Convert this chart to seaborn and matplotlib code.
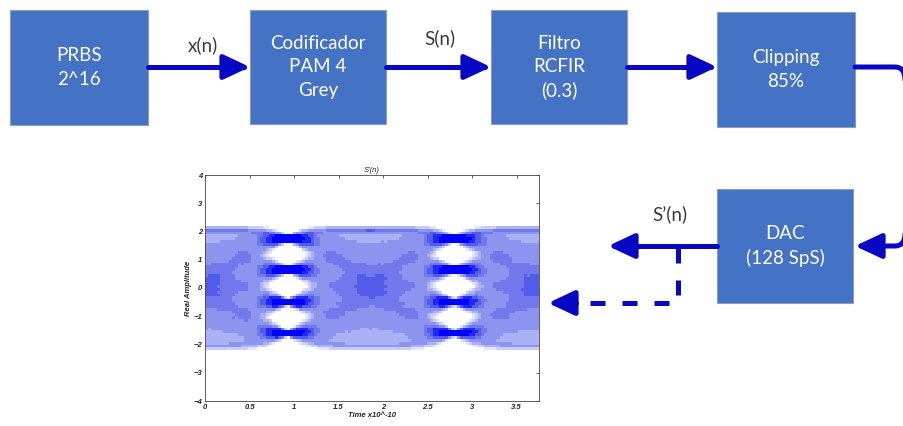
import itertools
import numpy as np
import pandas as pd
import matplotlib
matplotlib.use("Agg")
import matplotlib.pyplot as plt
from matplotlib.colors import ListedColormap
from matplotlib.patches import Rectangle, FancyArrowPatch, ArrowStyle
from matplotlib.path import Path
import seaborn as sns

# block diagram text
top_blocks = ["PRBS\n2^16", "Codificador\nPAM 4\nGrey", "Filtro\nRCFIR\n(0.3)", "Clipping\n85%"]
dac_block = "DAC\n(128 SpS)"
signal_labels = ["x(n)", "S(n)", "S\u2019(n)"]

# eye diagram values
pam4_levels = [-1.6, -0.5, 0.65, 1.75]
symbol_period = 1.87      # x1e-10
first_sample = 0.93
rolloff = 0.3
clip_knee = 1.8
clip_ceiling = 2.1
noise_offsets = [-0.07, 0.0, 0.07]
time_span = 3.75
x_ticks = [0, 0.5, 1, 1.5, 2, 2.5, 3, 3.5]
y_ticks = [-4, -3, -2, -1, 0, 1, 2, 3, 4]

# density shades (white -> pure blue); steps relative to one PAM level's share
shades = ["#ffffff", "#e2e5fb", "#c9cef8", "#aab1f4", "#8c94f0", "#7078ec", "#525bea", "#2228f2", "#0000ff"]
shade_steps = [0.0, 0.008, 0.02, 0.04, 0.065, 0.105, 0.122, 0.15, 0.2]

BOX = "#4472c4"
LINE = "#0808c4"

sns.set_style("white")
plt.rcParams["font.family"] = ["Lato", "DejaVu Sans"]

fig = plt.figure(figsize=(9.04, 4.26), dpi=100)
bg = fig.add_axes([0, 0, 1, 1])
bg.set_xlim(0, 904)
bg.set_ylim(426, 0)
bg.axis("off")

# --- blocks ---
box_pos = [(10, 10, 138, 115), (250, 10, 136, 114), (491, 10, 136, 114), (717, 12, 138, 115)]
for (x, y, w, h), txt in zip(box_pos, top_blocks):
    bg.add_patch(Rectangle((x, y), w, h, facecolor=BOX, edgecolor="#8a9cc0", lw=0.8))
    bg.text(x + w / 2, y + h / 2, txt, color="white", ha="center", va="center",
            fontsize=13.5, linespacing=1.45)
bg.add_patch(Rectangle((717, 189), 136, 114, facecolor=BOX, edgecolor="#8a9cc0", lw=0.8))
bg.text(785, 246, dac_block, color="white", ha="center", va="center", fontsize=13.5, linespacing=1.45)

head = ArrowStyle("-|>", head_length=16, head_width=7.5)


def arrow(verts, codes=None, **kw):
    p = Path(verts, codes)
    bg.add_patch(FancyArrowPatch(path=p, arrowstyle=head, mutation_scale=1, color=LINE,
                                 lw=3.6, shrinkA=0, shrinkB=0, **kw))


arrow([(148, 67), (250, 67)])
arrow([(386, 67), (491, 67)])
arrow([(627, 67), (717, 67)])
# out of the right edge and back in
bg.add_patch(FancyArrowPatch(path=Path([(855, 67), (895, 67), (905, 67), (905, 80), (905, 120)],
                                       [Path.MOVETO, Path.LINETO, Path.CURVE3, Path.CURVE3, Path.LINETO]),
                             arrowstyle="-", color=LINE, lw=3.6, shrinkA=0, shrinkB=0))
arrow([(905, 200), (905, 234), (905, 246), (895, 246), (855, 246)],
      [Path.MOVETO, Path.LINETO, Path.CURVE3, Path.CURVE3, Path.LINETO])
arrow([(717, 246), (608, 246)])
# dashed tap
bg.plot([678, 678, 575], [248, 303, 303], color=LINE, lw=3.6, ls=(0, (3, 3.4)),
        solid_capstyle="butt", dash_capstyle="butt")
arrow([(576, 303), (548, 303)])

for (x, y), txt in zip([(203, 45), (440, 38), (670, 214)], signal_labels):
    bg.text(x, y, txt, ha="center", va="center", fontsize=13.5, color="#3a3a3a")

# --- eye diagram: every PAM4 pattern through the RC filter, soft clip, small noise ---
def raised_cosine(tau):
    den = 1 - (2 * rolloff * tau) ** 2
    safe = np.where(np.abs(den) < 1e-8, 1.0, den)
    val = np.sinc(tau) * np.cos(np.pi * rolloff * tau) / safe
    edge = np.pi / 4 * np.sinc(1 / (2 * rolloff))
    return np.where(np.abs(den) < 1e-8, edge, val)


n_xbins, n_ybins, per_bin = 110, 80, 2
dt = time_span / (n_xbins * per_bin)
t = np.arange(n_xbins * per_bin) * dt + dt / 2
offsets = np.arange(-2, 4)
pulses = np.array([raised_cosine((t - first_sample - k * symbol_period) / symbol_period) for k in offsets])
patterns = np.array(list(itertools.product(pam4_levels, repeat=len(offsets))))
traces = patterns @ pulses
mag = np.abs(traces)
span = clip_ceiling - clip_knee
soft = np.where(mag > clip_knee, clip_knee + span * np.tanh((mag - clip_knee) / span), mag)
traces = np.sign(traces) * soft
amps = np.concatenate([(traces + n).ravel() for n in noise_offsets])
times = np.tile(t, len(patterns) * len(noise_offsets))
eye = pd.DataFrame({"time": times, "amp": amps})

# colour scale anchored to the share of one PAM level per time bin
counts, _, _ = np.histogram2d(times, amps, bins=(n_xbins, n_ybins), range=((0, time_span), (-4, 4)))
level_share = len(patterns) * len(noise_offsets) * per_bin / 4
cmap_list = []
for i in range(512):
    f = i / 511 * counts.max() / level_share
    idx = max(j for j, s in enumerate(shade_steps) if f >= s) if i > 0 else 0
    cmap_list.append(shades[idx])
cmap = ListedColormap(cmap_list)

ax = fig.add_axes([205 / 904, 1 - 401 / 426, 334 / 904, 226 / 426])
sns.histplot(data=eye, x="time", y="amp", bins=(n_xbins, n_ybins),
             binrange=((0, time_span), (-4, 4)), cmap=cmap, ax=ax, stat="count")
ax.set_xlim(0, time_span)
ax.set_ylim(-4, 4)
ax.set_xticks(x_ticks)
ax.set_xticklabels([f"{v:g}" for v in x_ticks])
ax.set_yticks(y_ticks)
tick_font = dict(family="Liberation Sans", weight="bold", style="italic", size=5.5)
for lab in ax.get_xticklabels() + ax.get_yticklabels():
    lab.set_fontfamily("Liberation Sans")
    lab.set_fontweight("bold")
    lab.set_fontstyle("italic")
    lab.set_fontsize(5.5)
ax.tick_params(direction="in", length=2, width=0.5, pad=2, top=True, right=True, colors="#222222")
for s in ax.spines.values():
    s.set_linewidth(0.6)
    s.set_color("#444444")
ax.set_xlabel("Time x10^-10", fontdict=tick_font, labelpad=1)
ax.set_ylabel("Real Amplitude", fontdict=tick_font, labelpad=1)
ax.set_title("S'(n)", fontdict=dict(family="Liberation Sans", style="italic", size=5.5), pad=2)
ax.grid(False)

fig.savefig("out.png", dpi=100)
